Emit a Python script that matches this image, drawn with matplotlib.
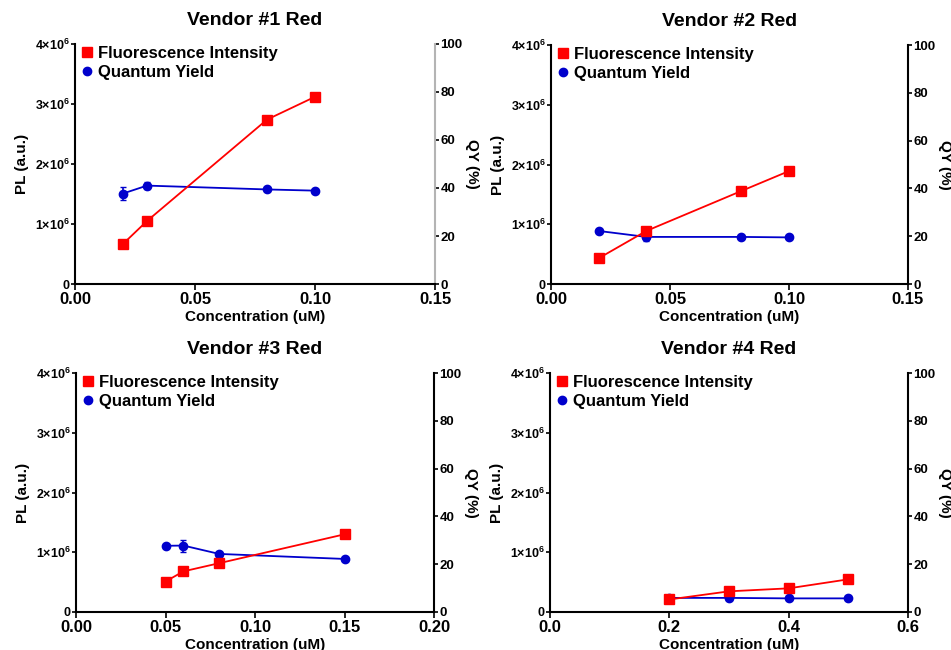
import matplotlib
matplotlib.use("Agg")
import matplotlib.pyplot as plt
from matplotlib.lines import Line2D

plt.rcParams['font.family'] = ['Liberation Sans', 'DejaVu Sans']
plt.rcParams['font.weight'] = 'bold'
plt.rcParams['mathtext.fontset'] = 'custom'
plt.rcParams['mathtext.rm'] = 'Liberation Sans:bold'
plt.rcParams['mathtext.default'] = 'rm'

titles = ["Vendor #1 Red", "Vendor #2 Red", "Vendor #3 Red", "Vendor #4 Red"]

conc1 = [0.02, 0.03, 0.08, 0.10]
fi1 = [0.668e6, 1.05e6, 2.74e6, 3.12e6]
fi1_err = [0.02e6, 0.02e6, 0.02e6, 0.07e6]
qy1 = [37.7, 41.0, 39.4, 38.9]
qy1_err = [2.6, 1.5, 0.5, 0.5]

conc2 = [0.02, 0.04, 0.08, 0.10]
fi2 = [0.43e6, 0.887e6, 1.557e6, 1.89e6]
fi2_err = [0.02e6, 0.03e6, 0.02e6, 0.02e6]
qy2 = [22.2, 19.7, 19.7, 19.5]
qy2_err = [0.4, 1.5, 0.4, 0.4]

conc3 = [0.05, 0.06, 0.08, 0.15]
fi3 = [0.51e6, 0.68e6, 0.817e6, 1.30e6]
fi3_err = [0.02e6, 0.05e6, 0.02e6, 0.02e6]
qy3 = [27.7, 27.8, 24.3, 22.2]
qy3_err = [0.4, 2.5, 0.4, 0.4]

conc4 = [0.2, 0.3, 0.4, 0.5]
fi4 = [0.21e6, 0.346e6, 0.396e6, 0.547e6]
fi4_err = [0.02e6, 0.02e6, 0.02e6, 0.02e6]
qy4 = [5.9, 5.9, 5.7, 5.7]
qy4_err = [0.3, 0.3, 0.3, 0.3]

xlims = [0.15, 0.15, 0.20, 0.6]
xticks = [[0.00, 0.05, 0.10, 0.15], [0.00, 0.05, 0.10, 0.15],
          [0.00, 0.05, 0.10, 0.15, 0.20], [0.0, 0.2, 0.4, 0.6]]
xfmt = ["{:.2f}", "{:.2f}", "{:.2f}", "{:.1f}"]
pl_ticks = [0, 1e6, 2e6, 3e6, 4e6]
pl_labels = ["0", r"$1{\times}10^{6}$", r"$2{\times}10^{6}$", r"$3{\times}10^{6}$", r"$4{\times}10^{6}$"]
qy_ticks = [0, 20, 40, 60, 80, 100]

datasets = [
    (conc1, fi1, fi1_err, qy1, qy1_err),
    (conc2, fi2, fi2_err, qy2, qy2_err),
    (conc3, fi3, fi3_err, qy3, qy3_err),
    (conc4, fi4, fi4_err, qy4, qy4_err),
]

W, H = 951, 650
fig = plt.figure(figsize=(W / 100, H / 100), dpi=100)

# axes boxes in pixels: (left, top, right, bottom)
boxes = [(75, 44, 435, 284), (551, 45, 908, 284), (76, 373, 434, 612), (550, 373, 908, 612)]
right_spine_colors = ['#b4b4b4', 'black', 'black', 'black']

RED = '#ff0000'
BLUE = '#0000cc'

for i, (l, t, r, b) in enumerate(boxes):
    ax = fig.add_axes([l / W, 1 - b / H, (r - l) / W, (b - t) / H])
    conc, fi, fie, qy, qye = datasets[i]
    ax2 = ax.twinx()
    ax2.errorbar(conc, qy, yerr=qye, color=BLUE, marker='o', markersize=6, lw=1.3,
                 capsize=2.5, elinewidth=1.2, zorder=2)
    ax.errorbar(conc, fi, yerr=fie, color=RED, marker='s', markersize=6.5, lw=1.3,
                capsize=2.5, elinewidth=1.2, zorder=3)
    ax.set_zorder(ax2.get_zorder() + 1)
    ax.patch.set_visible(False)

    ax.set_xlim(0, xlims[i])
    ax.set_ylim(0, 4e6)
    ax2.set_ylim(0, 100)
    ax.set_xticks(xticks[i])
    ax.set_xticklabels([xfmt[i].format(v) for v in xticks[i]], fontsize=12, fontweight='bold')
    ax.set_yticks(pl_ticks)
    ax.set_yticklabels(pl_labels, fontsize=9)
    ax2.set_yticks(qy_ticks)
    ax2.set_yticklabels([str(v) for v in qy_ticks], fontsize=9.5, fontweight='bold')

    for a in (ax, ax2):
        a.spines['top'].set_visible(False)
        a.tick_params(direction='out', length=3, width=1.2, pad=1)
    ax.spines['left'].set_linewidth(1.5)
    ax.spines['bottom'].set_linewidth(1.5)
    ax.spines['right'].set_visible(False)
    ax2.spines['left'].set_visible(False)
    ax2.spines['bottom'].set_visible(False)
    ax2.spines['right'].set_linewidth(1.5)
    ax2.spines['right'].set_color(right_spine_colors[i])
    ax.tick_params(axis='x', length=4, pad=2)

    ax.set_xlabel("Concentration (uM)", fontsize=11, fontweight='bold', labelpad=2)
    ax.set_ylabel("PL (a.u.)", fontsize=11, fontweight='bold', labelpad=4)
    ax2.set_ylabel("QY (%)", fontsize=11, fontweight='bold', rotation=270,
                   va='bottom', labelpad=2)
    ax.set_title(titles[i], fontsize=14, fontweight='bold', pad=14)

    handles = [Line2D([], [], color=RED, marker='s', linestyle='none', markersize=6.5),
               Line2D([], [], color=BLUE, marker='o', linestyle='none', markersize=6)]
    ax.legend(handles, ["Fluorescence Intensity", "Quantum Yield"], loc='upper left',
              bbox_to_anchor=(-0.012, 1.04), frameon=False, handlelength=0.6, handletextpad=0.35,
              borderaxespad=0.3, labelspacing=0.25, prop={'size': 12, 'weight': 'bold'})

fig.savefig("out.png", dpi=100)
